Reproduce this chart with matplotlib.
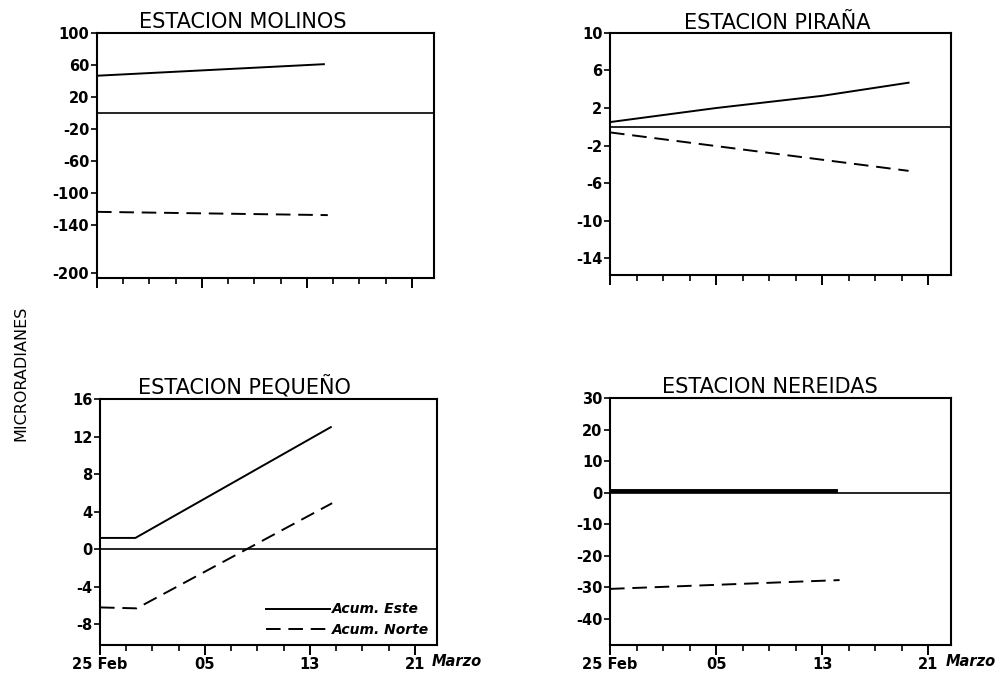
import matplotlib
matplotlib.use("Agg")
import matplotlib.pyplot as plt
from matplotlib.ticker import FixedLocator, MultipleLocator

plt.rcParams["font.family"] = ["DejaVu Sans"]
plt.rcParams["axes.unicode_minus"] = False

# days counted from 25 Feb
xlim_days = (0, 25.7)
major_days = [0, 8, 16, 24]
major_labels = ["25 Feb", "05", "13", "21"]

titles = ["ESTACION MOLINOS", "ESTACION PIRAÑA", "ESTACION PEQUEÑO", "ESTACION NEREIDAS"]

molinos_ticks = [100, 60, 20, -20, -60, -100, -140, -200]
molinos_este_x = [0, 17.3]
molinos_este_y = [46.6, 61.0]
molinos_norte_x = [0, 17.6]
molinos_norte_y = [-123.4, -127.5]

pirana_ticks = [10, 6, 2, -2, -6, -10, -14]
pirana_este_x = [0, 8, 16, 22.5]
pirana_este_y = [0.5, 2.0, 3.3, 4.7]
pirana_norte_x = [0, 22.5]
pirana_norte_y = [-0.6, -4.7]

pequeno_ticks = [16, 12, 8, 4, 0, -4, -8]
pequeno_este_x = [0, 2.7, 17.6]
pequeno_este_y = [1.2, 1.2, 13.0]
pequeno_norte_x = [0, 2.8, 17.7]
pequeno_norte_y = [-6.2, -6.3, 4.9]

nereidas_ticks = [30, 20, 10, 0, -10, -20, -30, -40]
nereidas_este_x = [0, 17.0]
nereidas_este_y = [0.4, 0.4]
nereidas_norte_x = [0, 17.3]
nereidas_norte_y = [-30.6, -27.8]

fig = plt.figure(figsize=(10.01, 6.77), dpi=100)

# axes boxes in figure fractions
boxes = [
    [0.0969, 0.5894, 0.3367, 0.3619],
    [0.6094, 0.5938, 0.3407, 0.3575],
    [0.0999, 0.0473, 0.3367, 0.3634],
    [0.6094, 0.0473, 0.3407, 0.3648],
]
ylims = [(-206, 100), (-15.8, 10), (-10.2, 16), (-48.4, 30)]
yticks = [molinos_ticks, pirana_ticks, pequeno_ticks, nereidas_ticks]
title_x = [0.433, 0.49, 0.43, 0.47]
title_pad = [3.5, 1.2, 4.0, 3.5]

dash = (7.5, 4)
axes = []
for i, box in enumerate(boxes):
    ax = fig.add_axes(box)
    ax.set_xlim(*xlim_days)
    ax.set_ylim(*ylims[i])
    ax.axhline(0, color="black", lw=1.2, zorder=1)
    ax.xaxis.set_major_locator(FixedLocator(major_days))
    ax.xaxis.set_minor_locator(MultipleLocator(2))
    ax.yaxis.set_major_locator(FixedLocator(yticks[i]))
    ax.set_yticklabels([str(v) for v in yticks[i]], fontsize=10.5, fontweight="bold")
    ax.tick_params(axis="x", which="major", length=7, width=1.4, direction="out", pad=1.5)
    ax.tick_params(axis="x", which="minor", length=4, width=1.2, direction="out")
    ax.tick_params(axis="y", which="major", length=4, width=1.2, direction="out", pad=1.5)
    for s in ax.spines.values():
        s.set_linewidth(1.5)
    ax.set_title(titles[i], x=title_x[i], pad=title_pad[i], fontsize=15)
    if i < 2:
        ax.set_xticklabels([])
    else:
        ax.set_xticklabels(major_labels, fontsize=10.5, fontweight="bold")
        ax.annotate("Marzo", xy=(25.3, 0), xycoords=ax.get_xaxis_transform(),
                    xytext=(0, -6.8), textcoords="offset points",
                    ha="left", va="top", fontsize=10.5, fontweight="bold",
                    style="italic", annotation_clip=False)
    axes.append(ax)

ax_mol, ax_pir, ax_peq, ax_ner = axes

ax_mol.plot(molinos_este_x, molinos_este_y, color="black", lw=1.4)
ax_mol.plot(molinos_norte_x, molinos_norte_y, color="black", lw=1.4, dashes=dash)

ax_pir.plot(pirana_este_x, pirana_este_y, color="black", lw=1.4)
ax_pir.plot(pirana_norte_x, pirana_norte_y, color="black", lw=1.4, dashes=dash)

ax_peq.plot(pequeno_este_x, pequeno_este_y, color="black", lw=1.4, label="Acum. Este")
ax_peq.plot(pequeno_norte_x, pequeno_norte_y, color="black", lw=1.4, dashes=dash,
            label="Acum. Norte")
leg = ax_peq.legend(loc="lower right", bbox_to_anchor=(1.0, 0.0), frameon=False,
                    handlelength=4.6, handletextpad=0.1, labelspacing=0.45,
                    borderaxespad=0.2, prop={"size": 10, "weight": "bold", "style": "italic"})

ax_ner.plot(nereidas_este_x, nereidas_este_y, color="black", lw=2.8)
ax_ner.plot(nereidas_norte_x, nereidas_norte_y, color="black", lw=1.4, dashes=dash)

fig.text(0.021, 0.449, "MICRORADIANES", rotation=90, ha="center", va="center",
         fontsize=11.5)

fig.savefig("out.png", dpi=100)
